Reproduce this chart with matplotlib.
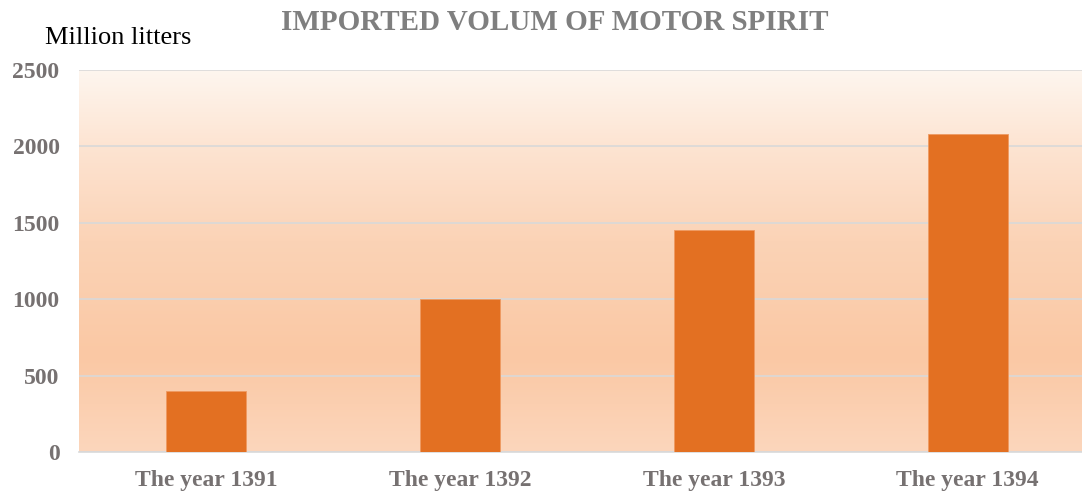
import matplotlib
matplotlib.use("Agg")
import matplotlib.pyplot as plt
import numpy as np
from matplotlib.colors import LinearSegmentedColormap

categories = ["The year 1391", "The year 1392", "The year 1393", "The year 1394"]
values = [400, 1000, 1450, 2080]
yticks = [0, 500, 1000, 1500, 2000, 2500]

plt.rcParams['font.family'] = ['Liberation Serif', 'DejaVu Serif']

fig = plt.figure(figsize=(10.82, 4.91), dpi=100)
ax = fig.add_axes([79/1082, 39/491, 1003/1082, 382/491])

# gradient background
cmap = LinearSegmentedColormap.from_list("bg", [
    (0.0, "#FCD6BC"),
    (0.25, "#FAC8A4"),
    (0.55, "#FBD3B6"),
    (0.8, "#FDE4D2"),
    (1.0, "#FEF6EF"),
])
grad = np.linspace(0, 1, 256).reshape(-1, 1)
ax.imshow(grad, cmap=cmap, aspect='auto', origin='lower',
          extent=[0, 1, 0, 1], transform=ax.transAxes, zorder=0)

x = np.arange(len(categories))
ax.bar(x, values, width=0.315, color="#E37022", edgecolor="#EE9A62",
       linewidth=0.6, zorder=3)

ax.set_xlim(-0.5, 3.45)
ax.set_ylim(0, 2500)
ax.set_yticks(yticks)
ax.set_yticklabels([str(v) for v in yticks])
ax.set_xticks(x)
ax.set_xticklabels(categories)
ax.yaxis.grid(True, color="#D9D9D9", linewidth=1.2, zorder=1)
for line in ax.get_ygridlines():
    line.set_zorder(1)

for s in ["left", "right", "top"]:
    ax.spines[s].set_visible(False)
ax.spines["bottom"].set_color("#D9D9D9")
ax.spines["bottom"].set_linewidth(1.2)
ax.tick_params(axis='both', length=0, labelcolor="#767171")
ax.tick_params(axis='y', pad=14, labelsize=17)
ax.tick_params(axis='x', pad=13, labelsize=17)
for lab in ax.get_xticklabels() + ax.get_yticklabels():
    lab.set_fontweight('bold')

fig.text(555/1082, 1 - 23/491, "IMPORTED VOLUM OF MOTOR SPIRIT", ha='center',
         va='center', fontsize=21, fontweight='bold', color="#7F7F7F")
fig.text(45/1082, 1 - 38/491, "Million litters", ha='left', va='center',
         fontsize=19, color="black")

fig.savefig("out.png", dpi=100)
